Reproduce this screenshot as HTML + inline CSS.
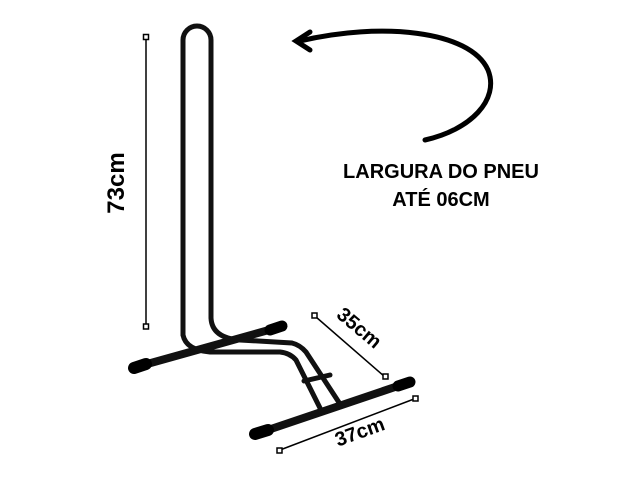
<!DOCTYPE html>
<html><head><meta charset="utf-8"><style>
html,body{margin:0;padding:0;background:#fff;}
svg{display:block;}
text{font-family:"Liberation Sans",sans-serif;font-weight:bold;fill:#000;}
</style></head><body>
<svg width="640" height="480" viewBox="0 0 640 480">
<g fill="none" stroke="#111" stroke-linecap="round">
  <path d="M140 366 L276 328" stroke-width="8"/>
  <path d="M183 335 L183 40 A14 14 0 0 1 211 40 L211 318 Q212 338 240 340 L292 343 Q300 345 306 352 L340 404" stroke-width="5"/>
  <path d="M183 335 Q186 350 210 352 L280 352 Q290 353 296 360 L320 408" stroke-width="5"/>
  <path d="M304 381 L330 375" stroke-width="5"/>
  <path d="M262 432 L404 384" stroke-width="8"/>
  <path d="M134 368 L146 364" stroke="#000" stroke-width="12"/>
  <path d="M270 330 L282 326" stroke="#000" stroke-width="11"/>
  <path d="M255 434 L268 430" stroke="#000" stroke-width="12"/>
  <path d="M398 386 L410 382" stroke="#000" stroke-width="11"/>
</g>
<g stroke="#000" fill="#fff">
  <line x1="146" y1="38" x2="146" y2="325" stroke-width="1.5"/>
  <rect x="143.5" y="34.5" width="5" height="5" stroke-width="1.5"/>
  <rect x="143.5" y="324" width="5" height="5" stroke-width="1.5"/>
</g>
<text x="0" y="0" font-size="24" text-anchor="middle" transform="translate(124 183) rotate(-90)">73cm</text>
<g stroke="#000" fill="#fff">
  <line x1="316" y1="317" x2="385" y2="377" stroke-width="1.5"/>
  <rect x="312" y="313" width="5" height="5" stroke-width="1.5"/>
  <rect x="383" y="374" width="5" height="5" stroke-width="1.5"/>
</g>
<text font-size="20" text-anchor="middle" transform="translate(355 333) rotate(40)">35cm</text>
<g stroke="#000" fill="#fff">
  <line x1="280" y1="450" x2="414" y2="399" stroke-width="1.5"/>
  <rect x="277" y="448" width="5" height="5" stroke-width="1.5"/>
  <rect x="413" y="396" width="5" height="5" stroke-width="1.5"/>
</g>
<text font-size="20" text-anchor="middle" transform="translate(362 438) rotate(-20)">37cm</text>
<g fill="none" stroke="#000" stroke-width="5" stroke-linecap="round">
  <path d="M300 41 C380 22 470 30 488 70 C500 100 470 130 425 140"/>
  <path d="M310 32 L296 41 L310 50"/>
</g>
<text x="441" y="178" font-size="20" text-anchor="middle">LARGURA DO PNEU</text>
<text x="441" y="206" font-size="20" text-anchor="middle">ATÉ 06CM</text>
</svg>
</body></html>
